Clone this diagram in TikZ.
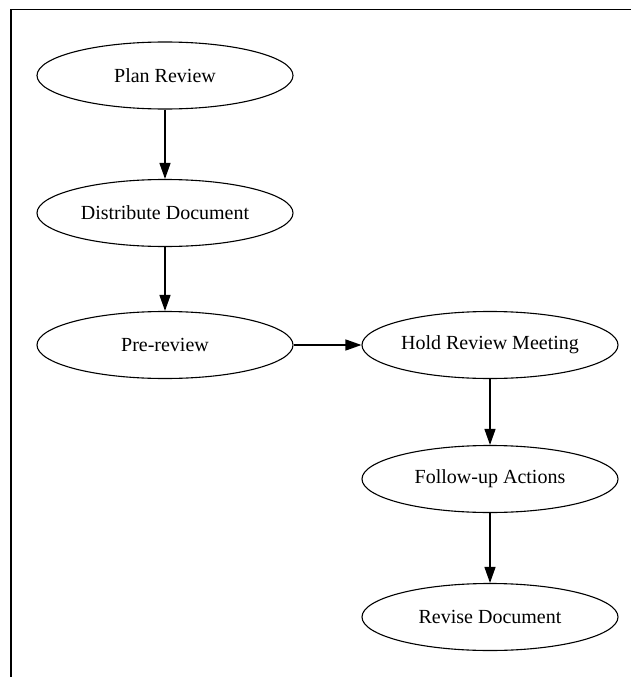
\documentclass[tikz,border=0pt]{standalone}
\usepackage{fontspec}
\setmainfont{Liberation Serif}
\usetikzlibrary{shapes.geometric,arrows.meta}
\tikzset{
  stage/.style={ellipse, draw, line width=1.1pt, minimum width=256pt, minimum height=67pt, inner sep=0pt, font=\fontsize{20}{24}\selectfont},
  flow/.style={line width=1.3pt, -{Triangle[length=16pt,width=11pt]}}
}
\begin{document}
\begin{tikzpicture}[x=1pt,y=-1pt]
\useasboundingbox (0,0) rectangle (631,677);
\draw[line width=1.3pt] (11,677) -- (11,9.5) -- (631,9.5);
\node[stage] (plan) at (165,75.5) {Plan Review};
\node[stage] (dist) at (165,213) {Distribute Document};
\node[stage] (pre) at (165,345) {Pre-review};
\node[stage] (hold) at (490,345) {Hold Review Meeting};
\node[stage] (follow) at (490,479) {Follow-up Actions};
\node[stage] (revise) at (490,617) {Revise Document};
\draw[flow] (plan) -- (dist);
\draw[flow] (dist) -- (pre);
\draw[flow] (pre) -- (hold);
\draw[flow] (hold) -- (follow);
\draw[flow] (follow) -- (revise);
\end{tikzpicture}
\end{document}
